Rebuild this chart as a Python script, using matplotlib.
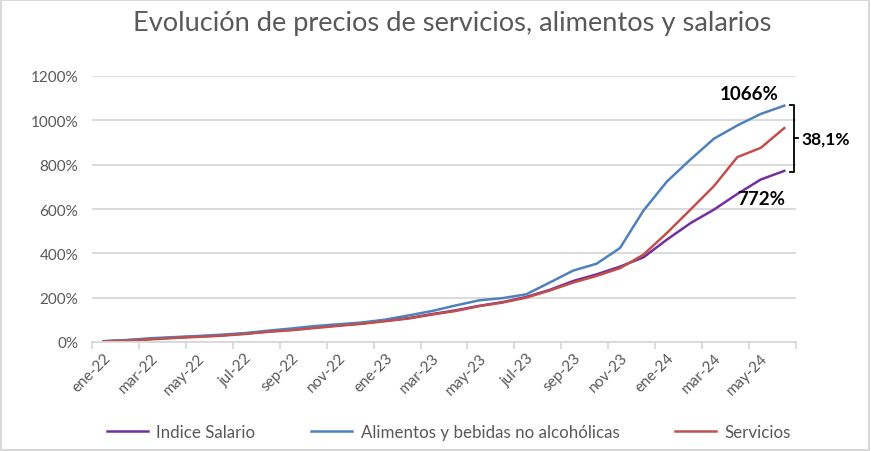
import matplotlib
matplotlib.use("Agg")
import matplotlib.pyplot as plt
from matplotlib.patches import Rectangle

plt.rcParams['font.family'] = ['Lato', 'DejaVu Sans']

# Monthly cumulative variation (%) since Dec-21
MESES = ['ene-22', 'feb-22', 'mar-22', 'abr-22', 'may-22', 'jun-22', 'jul-22', 'ago-22',
         'sep-22', 'oct-22', 'nov-22', 'dic-22', 'ene-23', 'feb-23', 'mar-23', 'abr-23',
         'may-23', 'jun-23', 'jul-23', 'ago-23', 'sep-23', 'oct-23', 'nov-23', 'dic-23',
         'ene-24', 'feb-24', 'mar-24', 'abr-24', 'may-24', 'jun-24']

salario = [3, 8, 14, 20, 25, 30, 38, 47, 56, 66, 75, 84, 96, 108, 126, 143,
           163, 180, 203, 235, 275, 305, 340, 382, 462, 536, 597, 668, 733, 772]
alimentos = [4, 9, 17, 22, 27, 33, 40, 51, 61, 72, 80, 88, 101, 120, 140, 165,
             188, 198, 215, 268, 322, 353, 424, 593, 724, 823, 917, 977, 1029, 1066]
servicios = [2, 6, 12, 18, 23, 28, 36, 46, 53, 63, 73, 82, 94, 106, 124, 140,
             162, 178, 200, 232, 268, 298, 333, 394, 492, 597, 703, 834, 876, 965]

BRECHA = '38,1%'

# colours
C_SAL = '#7030A0'
C_ALI = '#4F81BD'
C_SER = '#C0504D'
GRID = '#D9D9D9'
TXT = '#595959'

fig = plt.figure(figsize=(8.71, 4.52), dpi=100)
ax = fig.add_axes([92 / 871, 1 - 343 / 452, (796 - 92) / 871, (343 - 77) / 452])

x = list(range(len(MESES)))
ax.plot(x, salario, color=C_SAL, lw=1.8, label='Indice Salario')
ax.plot(x, alimentos, color=C_ALI, lw=1.8, label='Alimentos y bebidas no alcohólicas')
ax.plot(x, servicios, color=C_SER, lw=1.8, label='Servicios')

ax.set_xlim(-0.5, len(MESES) - 0.5)
ax.set_ylim(0, 1200)
ax.set_yticks(range(0, 1201, 200))
ax.set_yticklabels([f'{v}%' for v in range(0, 1201, 200)], fontsize=11, color=TXT)
ax.yaxis.grid(True, color=GRID, lw=1.3)
ax.set_axisbelow(True)
ax.tick_params(axis='y', length=0, pad=10)

# labels at category centres, tick marks on boundaries
ax.set_xticks(x[::2])
ax.set_xticklabels(MESES[::2], rotation=45, ha='right', va='top',
                   rotation_mode='anchor', fontsize=11, color=TXT)
ax.set_xticks([i - 0.5 for i in range(0, len(MESES) + 1, 2)], minor=True)
ax.tick_params(axis='x', which='major', length=0, pad=6)
ax.tick_params(axis='x', which='minor', length=5, width=1.3, color=GRID)

for s in ['top', 'right', 'left']:
    ax.spines[s].set_visible(False)
ax.spines['bottom'].set_color(GRID)
ax.spines['bottom'].set_linewidth(1.3)

# annotations on the last values
last = len(MESES) - 1
ax.text(last - 1.5, alimentos[-1] + 18, f'{alimentos[-1]}%', fontsize=13.5,
        fontweight='bold', ha='center', va='bottom')
ax.text(last - 1.0, salario[-1] - 88, f'{salario[-1]}%', fontsize=13.5,
        fontweight='bold', ha='center', va='top')

bx = last + 0.42
tk = 0.17
ax.plot([bx - tk, bx, bx, bx - tk], [alimentos[-1] + 5, alimentos[-1] + 5,
        salario[-1] - 5, salario[-1] - 5], color='black', lw=1.3, clip_on=False)
mid = (alimentos[-1] + salario[-1]) / 2
ax.plot([bx, bx + tk], [mid, mid], color='black', lw=1.3, clip_on=False)
ax.text(bx + 0.3, mid, BRECHA, fontsize=12.5, fontweight='bold', ha='left',
        va='center', clip_on=False)

fig.suptitle('Evolución de precios de servicios, alimentos y salarios', x=452 / 871,
             y=0.975, fontsize=19.6, color=TXT)

fig.legend(loc='center', bbox_to_anchor=(449 / 871, 1 - 433 / 452), ncol=3, frameon=False,
           fontsize=12.2, handlelength=2.4, handletextpad=0.5, columnspacing=3.3,
           labelcolor=TXT)

fig.patches.append(Rectangle((0.001, 0.002), 0.997, 0.995, transform=fig.transFigure,
                             fill=False, edgecolor=GRID, lw=1.5))

fig.savefig('out.png', dpi=100)
